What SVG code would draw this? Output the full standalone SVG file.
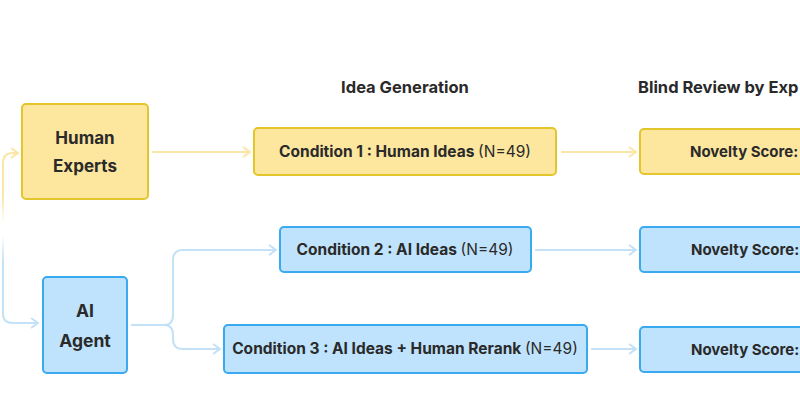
<svg xmlns="http://www.w3.org/2000/svg" width="800" height="416" viewBox="0 0 800 416">
<defs>
<style>
.y{fill:#fde69e;stroke:#e3c52c;stroke-width:2}
.b{fill:#bfe3fc;stroke:#39a9f0;stroke-width:2}
.t{font-family:Inter,"Liberation Sans",sans-serif;font-weight:700;fill:#2a2a2a}
.r{font-weight:400}
.n{font-size:15px}
.cy{fill:none;stroke:#fbe6a6;stroke-width:2}
.cb{fill:none;stroke:#c3e1f7;stroke-width:2}
</style>
<marker id="ay" viewBox="0 0 10 12" refX="9" refY="6" markerWidth="10" markerHeight="12" markerUnits="userSpaceOnUse" orient="auto"><path d="M2,1 L9,6 L2,11" fill="none" stroke="#fbe6a6" stroke-width="2"/></marker>
<marker id="ab" viewBox="0 0 10 12" refX="9" refY="6" markerWidth="10" markerHeight="12" markerUnits="userSpaceOnUse" orient="auto"><path d="M2,1 L9,6 L2,11" fill="none" stroke="#c3e1f7" stroke-width="2"/></marker>
<linearGradient id="gy" x1="0" y1="150" x2="0" y2="225" gradientUnits="userSpaceOnUse"><stop offset="0" stop-color="#fbe6a6"/><stop offset="0.6" stop-color="#fbe6a6"/><stop offset="1" stop-color="#fbe6a6" stop-opacity="0"/></linearGradient>
<linearGradient id="gb" x1="0" y1="235" x2="0" y2="325" gradientUnits="userSpaceOnUse"><stop offset="0" stop-color="#c3e1f7" stop-opacity="0"/><stop offset="0.3" stop-color="#c3e1f7"/><stop offset="1" stop-color="#c3e1f7"/></linearGradient>
</defs>
<rect width="800" height="416" fill="#ffffff"/>
<text class="t" x="405" y="93" font-size="16.5" text-anchor="middle">Idea Generation</text>
<text class="t" x="638" y="93" font-size="16.5">Blind Review by Exp</text>
<g id="connectors">
<path d="M3,225 L3,163 Q3,153 13,153 L18,153" fill="none" stroke="url(#gy)" stroke-width="2" marker-end="url(#ay)"/>
<path d="M3,235 L3,314 Q3,323 13,323 L38,323" fill="none" stroke="url(#gb)" stroke-width="2" marker-end="url(#ab)"/>
<path class="cy" d="M152,152 L250,152" marker-end="url(#ay)"/>
<path class="cy" d="M561,152 L636,152" marker-end="url(#ay)"/>
<path class="cb" d="M131,325 L164,325 Q173,325 173,315 L173,260 Q173,250 183,250 L276,250" marker-end="url(#ab)"/>
<path class="cb" d="M164,325 Q173,325 173,335 L173,339 Q173,349 183,349 L220,349" marker-end="url(#ab)"/>
<path class="cb" d="M535,250 L636,250" marker-end="url(#ab)"/>
<path class="cb" d="M591,349 L636,349" marker-end="url(#ab)"/>
</g>
<g id="human-experts">
<rect class="y" x="22" y="104" width="126" height="95" rx="4"/>
<text class="t" x="85" y="144" font-size="17" text-anchor="middle">Human</text>
<text class="t" x="85" y="172" font-size="17" text-anchor="middle">Experts</text>
</g>
<g id="ai-agent">
<rect class="b" x="43" y="277" width="84" height="96" rx="4"/>
<text class="t" x="85" y="317" font-size="17.5" text-anchor="middle">AI</text>
<text class="t" x="85" y="347" font-size="17.5" text-anchor="middle">Agent</text>
</g>
<g id="condition-1">
<rect class="y" x="254" y="128" width="302" height="47" rx="4"/>
<text class="t" x="405" y="157" font-size="15.5" text-anchor="middle">Condition 1 : Human Ideas <tspan class="r">(N=49)</tspan></text>
</g>
<g id="condition-2">
<rect class="b" x="280" y="227" width="251" height="45" rx="4"/>
<text class="t" x="405" y="255" font-size="15.5" text-anchor="middle">Condition 2 : AI Ideas <tspan class="r">(N=49)</tspan></text>
</g>
<g id="condition-3">
<rect class="b" x="224" y="325" width="363" height="48" rx="4"/>
<text class="t" x="405" y="354" font-size="15.5" text-anchor="middle">Condition 3 : AI Ideas + Human Rerank <tspan class="r">(N=49)</tspan></text>
</g>
<g id="novelty-1">
<rect class="y" x="640" y="129" width="220" height="45" rx="4"/>
<text class="t n" x="690" y="157">Novelty Score:</text>
</g>
<g id="novelty-2">
<rect class="b" x="640" y="227" width="220" height="45" rx="4"/>
<text class="t n" x="691" y="255">Novelty Score:</text>
</g>
<g id="novelty-3">
<rect class="b" x="640" y="327" width="220" height="45" rx="4"/>
<text class="t n" x="691" y="355">Novelty Score:</text>
</g>
</svg>
